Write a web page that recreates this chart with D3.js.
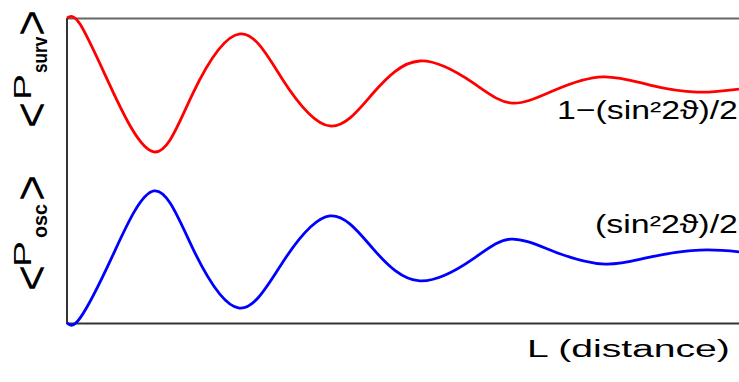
<!DOCTYPE html>
<html>
<head>
<meta charset="utf-8">
<script src="https://cdn.jsdelivr.net/npm/d3@7"></script>
<style>
  html, body { margin: 0; padding: 0; background: #fff; }
  svg { display: block; }
  text { font-family: "Liberation Sans", Arial, sans-serif; fill: #000; }
</style>
</head>
<body>
<svg id="chart"></svg>
<script>
// distance (arbitrary units) and averaged probabilities
var lSurv = [0, 0.31, 1.02, 2.07, 3.0, 4.12, 5.14, 6.26, 7.29, 8.4, 9.67, 10.6, 11.62, 12.76, 13.88, 15.0, 16];
var pSurv = [1.0, 0.98, 0.78, 0.561, 0.754, 0.948, 0.797, 0.646, 0.754, 0.859, 0.787, 0.721, 0.764, 0.807, 0.78, 0.757, 0.767];

var lOsc = [0, 0.31, 1.07, 2.07, 3.0, 4.1, 5.14, 6.26, 7.29, 8.4, 9.67, 10.57, 11.62, 12.81, 13.88, 15.07, 16];
var pOsc = [0, 0.016, 0.216, 0.433, 0.243, 0.049, 0.2, 0.351, 0.243, 0.138, 0.21, 0.275, 0.233, 0.193, 0.216, 0.239, 0.233];

var xDomain = [0, 16];
var yDomain = [0, 1];

var margin = { top: 18, right: 0, bottom: 59, left: 67 },
  width = 739 - margin.left - margin.right,
  height = 382 - margin.top - margin.bottom;

var x = d3.scaleLinear().domain(xDomain).range([0, width]);
var y = d3.scaleLinear().domain(yDomain).range([height, 0]);

var root = d3.select("svg#chart")
  .attr("width", 739)
  .attr("height", 382);

var svg = root.append("g")
  .attr("transform", "translate(" + margin.left + "," + margin.top + ")");

// frame: top, left, bottom
svg.append("line")
  .attr("x1", 0).attr("x2", width).attr("y1", 0.5).attr("y2", 0.5)
  .attr("stroke", "#666").attr("stroke-width", 2);
svg.append("line")
  .attr("x1", 0).attr("x2", 0).attr("y1", 0).attr("y2", height + 1)
  .attr("stroke", "#333").attr("stroke-width", 2);
svg.append("line")
  .attr("x1", 0).attr("x2", width).attr("y1", height + 0.5).attr("y2", height + 0.5)
  .attr("stroke", "#333").attr("stroke-width", 2);

var line = d3.line()
  .x(function (d) { return x(d[0]); })
  .y(function (d) { return y(d[1]); })
  .curve(d3.curveNatural);

svg.append("path")
  .datum(d3.zip(lSurv, pSurv))
  .attr("fill", "none")
  .attr("stroke", "#ff0000")
  .attr("stroke-width", 2.8)
  .attr("d", line);

svg.append("path")
  .datum(d3.zip(lOsc, pOsc))
  .attr("fill", "none")
  .attr("stroke", "#0000ff")
  .attr("stroke-width", 2.8)
  .attr("d", line);

// text stretched sideways to the wide lettering of the original
function wideText(parent, str, px, py, size, len, weight) {
  var g = parent.append("g");
  var t = g.append("text")
    .attr("font-size", size)
    .attr("font-weight", weight || "normal")
    .text(str);
  var w = t.node().getBBox().width;
  g.attr("transform", "translate(" + px + "," + py + ") scale(" + (len / w) + ",1)");
  return g;
}

wideText(root, "1\u2212(sin\u00b22\u03d1)/2", 557, 119, 26, 181);
wideText(root, "(sin\u00b22\u03d1)/2", 595, 233, 26, 143);
wideText(root, "L (distance)", 527, 357, 23, 203);

// rotated y labels, built piece by piece
function yLabel(sub, lt, pTop, subTop, subLen, gt) {
  var g = root.append("g").attr("transform", "translate(31,0) rotate(-90)");
  [["<", lt], [">", gt]].forEach(function (b) {
    g.append("text")
      .attr("x", -b[1]).attr("y", 17)
      .attr("text-anchor", "middle")
      .attr("font-family", "DejaVu Sans")
      .attr("font-size", 48)
      .attr("textLength", 26)
      .attr("lengthAdjust", "spacingAndGlyphs")
      .text(b[0]);
  });
  wideText(g, "P", -pTop - 26, 0, 23, 26);
  wideText(g, sub, -subTop - subLen, 16, 20, subLen, "bold");
}

yLabel("surv", 115, 74, 36, 37, 23);
yLabel("osc", 278, 241, 204, 34, 188);
</script>
</body>
</html>
